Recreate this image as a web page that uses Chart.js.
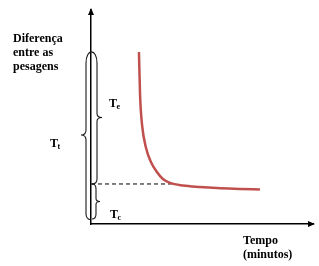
<!DOCTYPE html>
<html>
<head>
<meta charset="utf-8">
<script src="https://cdn.jsdelivr.net/npm/chart.js@4"></script>
<style>
html,body{margin:0;padding:0;background:#fff;}
#wrap{width:319px;height:266px;position:relative;}
</style>
</head>
<body>
<div id="wrap"><canvas id="c" width="319" height="266"></canvas></div>
<script>
// Data (axis units are arbitrary 0..100)
const curveX = [21.6, 22.1, 23.0, 24.8, 27.0, 29.7, 32.4, 35.6, 41.4, 49.1, 56.8, 67.1, 76.1];
const curveY = [80.4, 60.3, 46.3, 35.5, 29.0, 24.3, 21.0, 19.2, 18.0, 17.3, 16.8, 16.4, 16.1];
const tcLevel = 18.7;     // level of the dashed line (Tc)
const topLevel = 80.8;    // top of the Te / Tt braces
const dashEndX = 36;      // dashed line meets curve
const yLabelLines = ['Diferença', 'entre as', 'pesagens'];
const xLabelLines = ['Tempo', '(minutos)'];
const braceLabels = [
  {main: 'T', sub: 'e'},
  {main: 'T', sub: 't'},
  {main: 'T', sub: 'c'}
];

const curvePts = curveX.map((x, i) => ({x: x, y: curveY[i]}));
const dashPts = [{x: 0, y: tcLevel}, {x: dashEndX, y: tcLevel}];

const serif = '"Liberation Serif", "Times New Roman", serif';

const decor = {
  id: 'decor',
  afterDraw(chart) {
    const ctx = chart.ctx;
    const xs = chart.scales.x, ys = chart.scales.y;
    const ax = xs.getPixelForValue(0);
    const ay = ys.getPixelForValue(0);
    const yTop = ys.getPixelForValue(topLevel);
    const yTc = ys.getPixelForValue(tcLevel);
    const area = chart.chartArea;
    ctx.save();
    // arrowheads
    ctx.fillStyle = '#000';
    ctx.beginPath();
    ctx.moveTo(ax, area.top - 2);
    ctx.lineTo(ax - 3, area.top + 5);
    ctx.lineTo(ax + 3, area.top + 5);
    ctx.closePath(); ctx.fill();
    ctx.beginPath();
    ctx.moveTo(area.right + 2, ay);
    ctx.lineTo(area.right - 5, ay - 3);
    ctx.lineTo(area.right - 5, ay + 3);
    ctx.closePath(); ctx.fill();

    // braces
    ctx.strokeStyle = '#1a1a1a';
    ctx.lineWidth = 1.1;
    const lx = ax - 5, rx = ax + 6;
    const yb = ay - 5;
    // top arch joining Tt (left) and Te (right)
    ctx.beginPath();
    ctx.moveTo(lx, yTop + 12);
    ctx.bezierCurveTo(lx, yTop - 3, rx, yTop - 3, rx, yTop + 12);
    ctx.stroke();
    // Tt brace, left
    const mt = (yTop + yb) / 2;
    ctx.beginPath();
    ctx.moveTo(lx, yTop + 12);
    ctx.lineTo(lx, mt - 5);
    ctx.quadraticCurveTo(lx, mt, lx - 5, mt);
    ctx.quadraticCurveTo(lx, mt, lx, mt + 5);
    ctx.lineTo(lx, yb - 5);
    ctx.quadraticCurveTo(lx, yb, ax, yb + 1);
    ctx.stroke();
    // Te brace, right
    const me = (yTop + yTc) / 2;
    ctx.beginPath();
    ctx.moveTo(rx, yTop + 12);
    ctx.lineTo(rx, me - 4);
    ctx.quadraticCurveTo(rx, me, rx + 5, me);
    ctx.quadraticCurveTo(rx, me, rx, me + 4);
    ctx.lineTo(rx, yTc - 5);
    ctx.quadraticCurveTo(rx, yTc, ax + 1, yTc);
    ctx.stroke();
    // Tc brace, right
    const mc = (yTc + yb) / 2;
    ctx.beginPath();
    ctx.moveTo(ax + 1, yTc);
    ctx.quadraticCurveTo(rx - 1, yTc, rx - 1, yTc + 5);
    ctx.lineTo(rx - 1, mc - 3);
    ctx.quadraticCurveTo(rx - 1, mc, rx + 3, mc);
    ctx.quadraticCurveTo(rx - 1, mc, rx - 1, mc + 3);
    ctx.lineTo(rx - 1, yb - 5);
    ctx.quadraticCurveTo(rx - 1, yb, ax + 1, yb);
    ctx.stroke();

    // brace labels
    ctx.fillStyle = '#000';
    ctx.textBaseline = 'alphabetic';
    ctx.textAlign = 'left';
    function tlab(l, x, y) {
      ctx.font = 'bold 12px ' + serif;
      ctx.fillText(l.main, x, y);
      const w = ctx.measureText(l.main).width;
      ctx.font = 'bold 8px ' + serif;
      ctx.fillText(l.sub, x + w - 0.5, y + 2);
    }
    tlab(braceLabels[0], ax + 18, me - 11);
    tlab(braceLabels[1], ax - 41, mt + 12);
    tlab(braceLabels[2], ax + 19, yb - 1);

    // axis labels
    ctx.font = 'bold 12px ' + serif;
    yLabelLines.forEach((t, i) => ctx.fillText(t, 13, 42 + i * 14));
    xLabelLines.forEach((t, i) => ctx.fillText(t, 243, ay + 20 + i * 14));
    ctx.restore();
  }
};

new Chart(document.getElementById('c'), {
  type: 'scatter',
  data: {
    datasets: [
      {
        data: curvePts,
        showLine: true,
        borderColor: '#c0504d',
        borderWidth: 2.5,
        pointRadius: 0,
        cubicInterpolationMode: 'monotone',
        order: 1
      },
      {
        data: dashPts,
        showLine: true,
        borderColor: '#000',
        borderWidth: 1,
        borderDash: [4, 3],
        pointRadius: 0,
        order: 2
      }
    ]
  },
  options: {
    responsive: false,
    animation: false,
    events: [],
    layout: {padding: {left: 91, top: 10, right: 6, bottom: 42}},
    plugins: {legend: {display: false}, tooltip: {enabled: false}},
    scales: {
      x: {
        type: 'linear', min: 0, max: 100,
        grid: {display: false, drawTicks: false},
        border: {display: true, color: '#000', width: 1.5},
        ticks: {display: false}
      },
      y: {
        type: 'linear', min: 0, max: 100,
        grid: {display: false, drawTicks: false},
        border: {display: true, color: '#000', width: 1.5},
        ticks: {display: false}
      }
    }
  },
  plugins: [decor]
});
</script>
</body>
</html>
